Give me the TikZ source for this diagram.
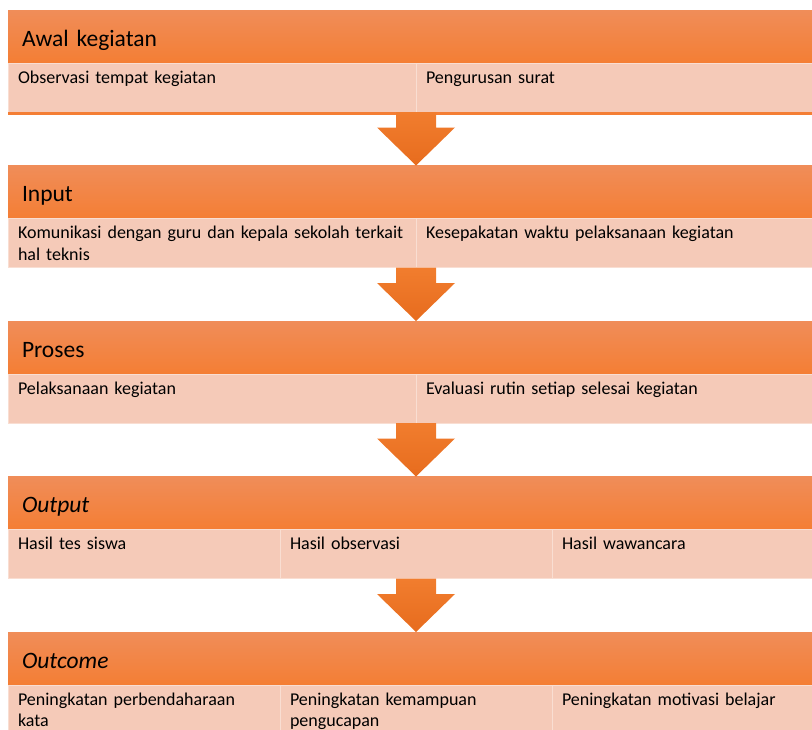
\documentclass[tikz,border=0pt]{standalone}
\usepackage{fontspec}
\setmainfont{Carlito}
\usetikzlibrary{positioning}

\definecolor{headtop}{RGB}{240,141,89}
\definecolor{headbot}{RGB}{244,126,52}
\definecolor{rowfill}{RGB}{245,202,184}
\definecolor{rowline}{RGB}{249,222,210}
\definecolor{arrowtop}{RGB}{241,125,46}
\definecolor{arrowbot}{RGB}{231,108,30}

% down arrow from a row bottom (#1) to the next header top (#2)
\newcommand{\blockarrow}[2]{%
  \shade[top color=arrowtop, bottom color=arrowbot]
    ([xshift=-20pt]#1) -- ([xshift=20pt]#1) -- ([xshift=20pt,yshift=38pt]#2)
    -- ([xshift=39pt,yshift=38pt]#2) -- (#2) -- ([xshift=-39pt,yshift=38pt]#2)
    -- ([xshift=-20pt,yshift=38pt]#2) -- cycle;}

\begin{document}
\begin{tikzpicture}[x=1pt, y=-1pt,
    stage/.style={minimum width=816pt, minimum height=53pt, text width=788pt, inner xsep=14pt, inner ysep=0pt, outer sep=0pt, align=left, top color=headtop, bottom color=headbot, text height=24pt, text depth=5pt, font=\fontsize{23.5}{28}\selectfont},
    cell/.style={fill=rowfill, draw=rowline, line width=0.6pt, inner xsep=10pt, inner ysep=0pt, outer sep=0pt, align=left, text height=20pt, text depth=29pt, font=\fontsize{18}{21.5}\selectfont},
    half/.style={cell, text width=388pt},
    third/.style={cell, text width=252pt}
]
    \useasboundingbox (0,0) rectangle (812,729);
    \clip (0,0) rectangle (812,729);

    % Awal kegiatan
    \node[stage, anchor=north] (awal) at (416,10) {Awal kegiatan};
    \node[half, below=0pt of awal.south west, anchor=north west] (observasi) {Observasi tempat kegiatan};
    \node[half, right=0pt of observasi] (surat) {Pengurusan surat};
    \fill[headbot] (observasi.south west) rectangle ([yshift=-3pt]surat.south east);

    % Input
    \node[stage, below=53.5pt of observasi.south west, anchor=north west] (input) {Input};
    \node[half, below=0pt of input.south west, anchor=north west] (komunikasi) {Komunikasi dengan guru dan kepala sekolah terkait\\hal teknis};
    \node[half, right=0pt of komunikasi] (kesepakatan) {Kesepakatan waktu pelaksanaan kegiatan};

    % Proses
    \node[stage, below=53.5pt of komunikasi.south west, anchor=north west] (proses) {Proses};
    \node[half, below=0pt of proses.south west, anchor=north west] (pelaksanaan) {Pelaksanaan kegiatan};
    \node[half, right=0pt of pelaksanaan] (evaluasi) {Evaluasi rutin setiap selesai kegiatan};

    % Output
    \node[stage, below=53.5pt of pelaksanaan.south west, anchor=north west] (output) {\textit{Output}};
    \node[third, below=0pt of output.south west, anchor=north west] (tes) {Hasil tes siswa};
    \node[third, right=0pt of tes] (obsv) {Hasil observasi};
    \node[third, right=0pt of obsv] (wawancara) {Hasil wawancara};

    % Outcome
    \node[stage, below=53.5pt of tes.south west, anchor=north west] (outcome) {\textit{Outcome}};
    \node[third, below=0pt of outcome.south west, anchor=north west] (kosakata) {Peningkatan perbendaharaan\\kata};
    \node[third, right=0pt of kosakata] (pengucapan) {Peningkatan kemampuan\\pengucapan};
    \node[third, right=0pt of pengucapan] (motivasi) {Peningkatan motivasi belajar};

    % Arrows
    \coordinate (a1) at (input.north |- observasi.south);
    \coordinate (a2) at (proses.north |- komunikasi.south);
    \coordinate (a3) at (output.north |- pelaksanaan.south);
    \coordinate (a4) at (outcome.north |- tes.south);
    \blockarrow{a1}{input.north}
    \blockarrow{a2}{proses.north}
    \blockarrow{a3}{output.north}
    \blockarrow{a4}{outcome.north}
\end{tikzpicture}
\end{document}
